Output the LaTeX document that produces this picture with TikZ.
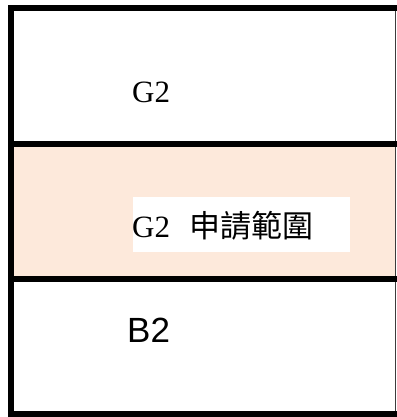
\documentclass[tikz,border=0pt]{standalone}
\usepackage{fontspec}
\setmainfont{Liberation Serif}
\newfontfamily\arialfont{Liberation Sans}
\newfontfamily\cjkfont{Noto Sans CJK TC}
\definecolor{peach}{RGB}{253,233,219}
\definecolor{edgegray}{RGB}{60,60,60}
\tikzset{
  band/.style={line width=6bp, draw=black},
  serifTxt/.style={anchor=base west, inner sep=0pt, font=\fontsize{31bp}{36bp}\selectfont},
  sansTxt/.style={anchor=base west, inner sep=0pt, font=\arialfont\fontsize{35bp}{40bp}\selectfont}
}
\begin{document}
\begin{tikzpicture}[x=1bp,y=-1bp]
\useasboundingbox (0,0) rectangle (397,417);
% peach band
\fill[peach] (14,147) rectangle (395,276);
% white label box
\node[fill=white, inner sep=0pt, minimum width=217bp, minimum height=55bp, anchor=north west] (labelbox) at (133,197) {};
% thin right edge
\draw[edgegray, line width=1.5bp] (395.5,8) -- (395.5,414);
% thick frame lines
\draw[band] (11,5) -- (11,417);
\draw[band] (8,8) -- (397,8);
\draw[band] (8,143.5) -- (397,143.5);
\draw[band] (8,279) -- (397,279);
\draw[band] (8,414) -- (397,414);
% texts
\node[serifTxt] (g2top) at (132,102) {G2};
\node[serifTxt] (g2mid) at (132,237) {G2\hspace{0.62em}{\cjkfont\fontsize{31bp}{36bp}\selectfont 申請範圍}};
\node[sansTxt] (b2) at (127,342) {B2};
\end{tikzpicture}
\end{document}
